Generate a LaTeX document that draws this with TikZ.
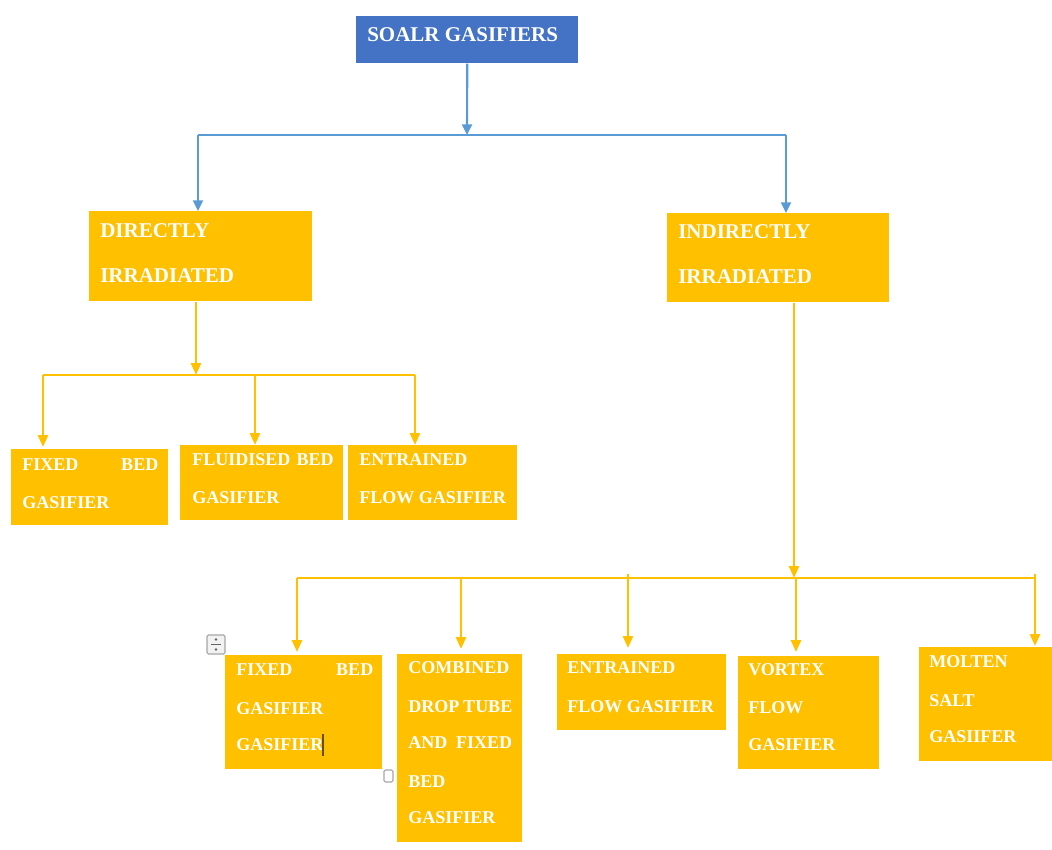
\documentclass[tikz,border=0pt]{standalone}
\usepackage{fontspec}
\setmainfont{Liberation Serif}
\usetikzlibrary{arrows.meta}
\definecolor{gold}{HTML}{FFC000}
\definecolor{boxblue}{HTML}{4472C4}
\definecolor{lineblue}{HTML}{5B9BD5}
\newcommand{\bx}[6]{\node[fill=#6, draw=none, inner sep=0pt, anchor=north west,
  minimum width={(#4-#2)*0.75pt}, minimum height={(#5-#3)*0.75pt}] (#1) at (#2,#3) {};}
\begin{document}
\begin{tikzpicture}[x=0.75pt,y=-0.75pt,
  tbig/.style={font=\bfseries\fontsize{15.75}{15.75}\selectfont, text=white, anchor=base west, inner sep=0pt},
  tsm/.style={font=\bfseries\fontsize{13.5}{13.5}\selectfont, text=white, anchor=base west, inner sep=0pt},
  bline/.style={draw=lineblue, line width=1.6pt},
  barrow/.style={bline, -{Triangle[width=7.5pt,length=8pt]}},
  gline/.style={draw=gold, line width=1.9pt},
  garrow/.style={gline, -{Triangle[width=7.5pt,length=9pt]}}]
\useasboundingbox (0,0) rectangle (1052,849);
% boxes
\bx{top}{356}{16}{578}{63}{boxblue}
\bx{dir}{89}{211}{312}{301}{gold}
\bx{ind}{667}{213}{889}{302}{gold}
\bx{fb}{11}{449}{168}{525}{gold}
\bx{fl}{180}{445}{343}{520}{gold}
\bx{en}{348}{445}{517}{520}{gold}
\bx{fb2}{225}{655}{382}{769}{gold}
\bx{cd}{397}{654}{522}{842}{gold}
\bx{en2}{557}{654}{726}{730}{gold}
\bx{vf}{738}{656}{879}{769}{gold}
\bx{ms}{919}{647}{1052}{761}{gold}
% texts
\node[tbig] (ttop) at (367,42) {SOALR GASIFIERS};
\node[tbig] (tdir1) at (100,237) {DIRECTLY};
\node[tbig] (tdir2) at (100,282) {IRRADIATED};
\node[tbig] (tind1) at (678,238) {INDIRECTLY};
\node[tbig] (tind2) at (678,283) {IRRADIATED};
\node[tsm] (tfb1) at (22,470) {\makebox[102pt][l]{FIXED\hfill BED}};
\node[tsm] (tfb2) at (22,508) {GASIFIER};
\node[tsm] (tfl1) at (192,465) {\makebox[106pt][l]{FLUIDISED\hfill BED}};
\node[tsm] (tfl2) at (192,503) {GASIFIER};
\node[tsm] (ten1) at (359,465) {ENTRAINED};
\node[tsm] (ten2) at (359,503) {FLOW GASIFIER};
\node[tsm] (tfc1) at (236,675) {\makebox[102.75pt][l]{FIXED\hfill BED}};
\node[tsm] (tfc2) at (236,714) {GASIFIER};
\node[tsm] (tfc3) at (236,750) {GASIFIER};
\node[tsm] (tcd1) at (408,673) {COMBINED};
\node[tsm] (tcd2) at (408,712) {\makebox[78pt][l]{DROP\hfill TUBE}};
\node[tsm] (tcd3) at (408,748) {\makebox[78pt][l]{AND\hfill FIXED}};
\node[tsm] (tcd4) at (408,787) {BED};
\node[tsm] (tcd5) at (408,823) {GASIFIER};
\node[tsm] (te21) at (567,673) {ENTRAINED};
\node[tsm] (te22) at (567,712) {FLOW GASIFIER};
\node[tsm] (tvf1) at (748,675) {VORTEX};
\node[tsm] (tvf2) at (748,713) {FLOW};
\node[tsm] (tvf3) at (748,750) {GASIFIER};
\node[tsm] (tms1) at (929,667) {MOLTEN};
\node[tsm] (tms2) at (929,706) {SALT};
\node[tsm] (tms3) at (929,742) {GASIIFER};
% blue connectors
\coordinate (j0) at (467,135);
\coordinate (jL) at (198,135);
\coordinate (jR) at (786,135);
\draw[barrow] (top.south) -- (j0);
\draw[bline] (jL) -- (jR);
\draw[barrow] (jL) -- (jL |- dir.north);
\draw[barrow] (jR) -- (jR |- ind.north);
% directly connectors
\coordinate (k0) at (196,375);
\coordinate (kL) at (43,375);
\coordinate (kM) at (255,375);
\coordinate (kR) at (415,375);
\draw[garrow] (k0 |- dir.south) -- (k0);
\draw[gline] (kL) -- (kR);
\draw[garrow, shorten >=1.5pt] (kL) -- (kL |- fb.north);
\draw[garrow] (kM) -- (kM |- fl.north);
\draw[garrow] (kR) -- (kR |- en.north);
% indirectly connectors
\coordinate (m0) at (794,578);
\coordinate (m1) at (297,578);
\coordinate (m2) at (461,578);
\coordinate (m3) at (628,578);
\coordinate (m4) at (796,578);
\coordinate (m5) at (1035,578);
\draw[garrow] (m0 |- ind.south) -- (m0);
\draw[gline] (m1) -- (m5);
\draw[gline] (628,574) -- (m3);
\draw[gline] (1035,574) -- (m5);
\draw[garrow, shorten >=2.25pt] (m1) -- (m1 |- fb2.north);
\draw[garrow, shorten >=3.75pt] (m2) -- (m2 |- cd.north);
\draw[garrow, shorten >=4.5pt] (m3) -- (m3 |- en2.north);
\draw[garrow, shorten >=3pt] (m4) -- (m4 |- vf.north);
\draw[garrow, shorten >=0.75pt] (m5) -- (m5 |- ms.north);
% editor marks
\draw[draw=gray!70, fill=gray!10, line width=0.8pt, rounded corners=1pt] (207,635) rectangle (225,654);
\draw[gray!80!black, line width=0.8pt] (211,644.5) -- (221,644.5);
\fill[gray!80!black] (216,639.5) circle (1.4);
\fill[gray!80!black] (216,649.5) circle (1.4);
\draw[draw=gray!70, fill=white, line width=0.8pt, rounded corners=1pt] (384,770) rectangle (393,782);
\draw[draw=black!60!gold, line width=1.2pt] (323,734) -- (323,756);
\end{tikzpicture}
\end{document}
